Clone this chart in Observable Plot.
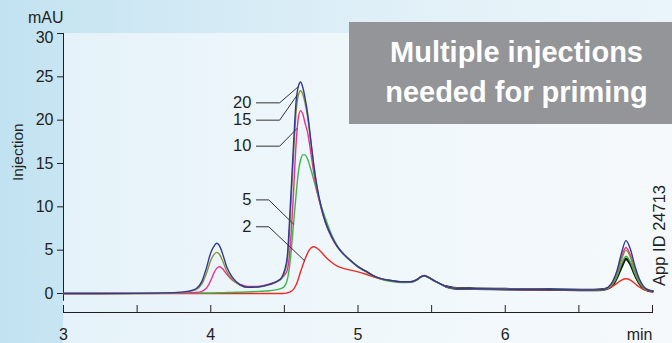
<!DOCTYPE html>
<html>
<head>
<meta charset="utf-8">
<script src="https://cdn.jsdelivr.net/npm/d3@7"></script>
<script src="https://cdn.jsdelivr.net/npm/@observablehq/plot@0.6"></script>
<style>
  html, body { margin: 0; padding: 0; }
  body {
    width: 672px; height: 343px; overflow: hidden; position: relative;
    background: linear-gradient(to right, #c2e2f1 0%, #d3eaf5 30%, #e3f1f8 65%, #eaf5fa 100%);
    font-family: "Liberation Sans", Arial, Helvetica, sans-serif;
  }
  #panel {
    position: absolute; left: 63px; top: 33px; right: 0; bottom: 0;
    background: linear-gradient(to right, #e5f2f9 0%, #eff7fb 45%, #f5f9fc 100%);
  }
  #chart { position: absolute; left: 0; top: 0; }
  #callout {
    position: absolute; left: 349px; top: 22px; width: 323px; height: 102px;
    background: #939598; color: #ffffff; font-weight: bold; font-size: 29px;
    line-height: 40px; box-sizing: border-box; padding: 10px 16px 0 28px;
    text-align: center; white-space: nowrap;
  }
</style>
</head>
<body>
<div id="panel"></div>
<div id="chart"></div>
<div id="callout">Multiple injections<br>needed for priming</div>
<script>
// Retention time (min) shared by the five priming traces
const time = [3.00, 3.50, 3.75, 3.85, 3.90, 3.94, 3.97, 4.00, 4.02, 4.04,
  4.06, 4.08, 4.11, 4.15, 4.20, 4.25, 4.32, 4.40, 4.45, 4.48,
  4.50, 4.52, 4.54, 4.56, 4.58, 4.595, 4.61, 4.625, 4.64, 4.66,
  4.68, 4.70, 4.72, 4.75, 4.78, 4.82, 4.86, 4.90, 4.95, 5.00,
  5.05, 5.10, 5.15, 5.22, 5.30, 5.36, 5.40, 5.43, 5.45, 5.48,
  5.52, 5.56, 5.60, 5.65, 5.80, 6.00, 6.30, 6.60, 6.66, 6.70,
  6.73, 6.76, 6.79, 6.82, 6.85, 6.88, 6.91, 6.94, 6.97, 7.00];

// Absorbance (mAU) after injection 20, 15, 10, 5 and 2
const inj20 = [0, 0.02, 0.1, 0.28, 0.55, 1.4, 2.9, 4.7, 5.4, 5.8,
  5.5, 4.6, 3.0, 1.8, 1.0, 0.72, 0.75, 1.05, 1.4, 1.8,
  2.6, 4.3, 10.0, 16.5, 22.2, 23.9, 24.4, 23.8, 22.6, 20.5,
  17.6, 14.8, 12.5, 10.0, 8.2, 6.6, 5.4, 4.6, 3.8, 3.1,
  2.6, 2.1, 1.75, 1.5, 1.35, 1.35, 1.6, 1.95, 2.05, 1.85,
  1.45, 1.1, 0.8, 0.62, 0.55, 0.5, 0.45, 0.4, 0.45, 0.75,
  1.4, 2.7, 4.7, 6.1, 5.1, 3.2, 1.7, 0.8, 0.4, 0.25];
const inj15 = [0, 0.02, 0.08, 0.22, 0.45, 1.1, 2.3, 3.8, 4.45, 4.75,
  4.5, 3.8, 2.5, 1.55, 0.95, 0.72, 0.75, 1.02, 1.35, 1.7,
  2.4, 3.8, 8.8, 15.3, 21.0, 22.9, 23.4, 23.0, 22.0, 20.1,
  17.4, 14.7, 12.4, 9.9, 8.2, 6.6, 5.4, 4.6, 3.8, 3.1,
  2.6, 2.1, 1.75, 1.5, 1.35, 1.35, 1.6, 1.95, 2.05, 1.85,
  1.45, 1.1, 0.8, 0.62, 0.55, 0.5, 0.45, 0.4, 0.44, 0.68,
  1.2, 2.3, 3.9, 5.0, 4.2, 2.7, 1.45, 0.7, 0.38, 0.25];
const inj10 = [0, 0.01, 0.04, 0.08, 0.12, 0.25, 0.6, 1.5, 2.3, 2.9,
  3.08, 2.85, 2.2, 1.5, 1.05, 0.8, 0.82, 1.1, 1.4, 1.75,
  2.1, 2.7, 5.5, 11.0, 17.4, 20.3, 21.1, 20.7, 19.7, 18.4,
  16.2, 13.9, 12.0, 9.8, 8.1, 6.5, 5.35, 4.55, 3.8, 3.1,
  2.6, 2.1, 1.75, 1.5, 1.35, 1.35, 1.6, 1.95, 2.05, 1.85,
  1.45, 1.1, 0.8, 0.62, 0.55, 0.5, 0.45, 0.4, 0.45, 0.7,
  1.3, 2.5, 4.2, 5.3, 4.4, 2.8, 1.5, 0.75, 0.4, 0.25];
const inj5 = [0, 0, 0.02, 0.03, 0.04, 0.05, 0.05, 0.06, 0.07, 0.08,
  0.09, 0.1, 0.11, 0.13, 0.15, 0.18, 0.24, 0.32, 0.45, 0.6,
  0.8, 1.6, 3.8, 7.6, 11.5, 14.0, 15.4, 16.0, 16.0, 15.4,
  14.3, 13.1, 11.8, 10.1, 8.6, 6.8, 5.5, 4.55, 3.75, 3.05,
  2.55, 2.05, 1.7, 1.4, 1.25, 1.28, 1.55, 1.9, 2.0, 1.8,
  1.42, 1.08, 0.78, 0.6, 0.55, 0.5, 0.45, 0.4, 0.44, 0.65,
  1.1, 2.0, 3.4, 4.3, 3.6, 2.3, 1.25, 0.62, 0.35, 0.25];
const inj2 = [0, 0, 0, 0, 0, 0, 0, 0, 0, 0,
  0, 0, 0, 0, 0, 0, 0, 0, 0, 0,
  0.02, 0.08, 0.2, 0.45, 1.0, 1.7, 2.5, 3.25, 3.95, 4.75,
  5.25, 5.4, 5.25, 4.8, 4.2, 3.6, 3.15, 2.9, 2.7, 2.5,
  2.25, 1.95, 1.7, 1.45, 1.33, 1.35, 1.62, 1.98, 2.08, 1.85,
  1.45, 1.1, 0.8, 0.62, 0.55, 0.5, 0.45, 0.4, 0.45, 0.6,
  0.85, 1.2, 1.55, 1.7, 1.55, 1.15, 0.75, 0.45, 0.3, 0.2];

// Reference run, recorded over the late part of the gradient only
const refTime = [5.60, 5.65, 5.80, 6.00, 6.30, 6.60, 6.66, 6.70, 6.73, 6.76,
  6.79, 6.82, 6.85, 6.88, 6.91, 6.94, 6.97, 7.00];
const refTrace = [0.8, 0.62, 0.55, 0.5, 0.45, 0.4, 0.45, 0.62, 1.0, 1.9,
  3.1, 4.0, 3.4, 2.2, 1.2, 0.6, 0.35, 0.25];

// Axis ticks
const xMajorTicks = [3, 4, 5, 6];
const xTickMarks = [3, 3.5, 4, 4.5, 5, 5.5, 6, 6.5, 7];
const yTicks = [0, 5, 10, 15, 20, 25, 30];

// Trace labels: label, label height, elbow time, and the point on the trace
const labelNames = ["20", "15", "10", "5", "2"];
const labelLevel = [22.0, 20.0, 17.0, 10.8, 7.7];
const labelElbow = [4.468, 4.468, 4.468, 4.394, 4.394];
const labelTargetT = [4.597, 4.587, 4.587, 4.563, 4.638];
const labelTargetV = [23.9, 22.9, 19.05, 8.0, 3.77];
const labelStart = 4.31;

// Drawing styles
const ink = "#231f20";
const font = "'Liberation Sans', Arial, Helvetica, sans-serif";
const traceStyles = [
  {name: "2", values: inj2, color: "#ee2a24"},
  {name: "5", values: inj5, color: "#3db54a"},
  {name: "10", values: inj10, color: "#e8318f"},
  {name: "15", values: inj15, color: "#8f8f3a"},
  {name: "20", values: inj20, color: "#2d3a94"}
];

const W = 672, H = 343;
const mLeft = 63, mRight = 20, mTop = 33, mBottom = 31;
const innerW = W - mLeft - mRight;
const innerH = H - mTop - mBottom;
const tickLen = 6;
// y=0 sits 19px above the time axis
const yFloor = -19 / ((innerH - 19) / 30);
const yTop = yTicks[yTicks.length - 1];

const refRows = refTime.map((t, i) => ({t, v: refTrace[i]}));

const leaderRows = [];
labelNames.forEach((name, i) => {
  leaderRows.push({name, t: labelStart, v: labelLevel[i]});
  leaderRows.push({name, t: labelElbow[i], v: labelLevel[i]});
  leaderRows.push({name, t: labelTargetT[i], v: labelTargetV[i]});
});
const labelRows = labelNames.map((name, i) => ({name, t: labelStart, v: labelLevel[i]}));

const traceMarks = traceStyles.map(s =>
  Plot.line(time.map((t, i) => ({t, v: s.values[i]})), {
    x: "t", y: "v", stroke: s.color, strokeWidth: 1.4, curve: "monotone-x"
  })
);

const chart = Plot.plot({
  width: W, height: H,
  marginLeft: mLeft, marginRight: mRight, marginTop: mTop, marginBottom: mBottom,
  style: {background: "transparent", fontFamily: font, fontSize: "16px", color: ink},
  x: {domain: [3, 7], axis: null},
  y: {domain: [yFloor, yTop], axis: null},
  marks: [
    // time axis: line, upward ticks, labels
    Plot.frame({anchor: "bottom", stroke: ink}),
    Plot.tickX(xTickMarks, {x: d => d, insetTop: innerH - 7, stroke: ink}),
    Plot.text(xMajorTicks, {x: d => d, text: d => String(d), frameAnchor: "bottom", lineAnchor: "top", dy: 16, fontSize: 16, fill: ink}),
    Plot.text([7], {x: d => d, text: () => "min", frameAnchor: "bottom", textAnchor: "end", lineAnchor: "top", dy: 16, fontSize: 16, fill: ink}),
    // absorbance axis: line, outward ticks, labels
    Plot.ruleX([3], {y1: -0.9, y2: yTop, stroke: ink}),
    Plot.tickY(yTicks, {y: d => d, insetRight: innerW - tickLen, dx: -tickLen, stroke: ink}),
    Plot.text(yTicks.filter(d => d < yTop), {y: d => d, text: d => String(d), frameAnchor: "left", textAnchor: "end", dx: -10, fontSize: 16, fill: ink}),
    Plot.text([yTop], {y: d => d, text: d => String(d), frameAnchor: "left", textAnchor: "end", dx: -10, dy: 4, fontSize: 16, fill: ink}),
    Plot.text([yTop], {x: () => 3, y: d => d, text: () => "mAU", textAnchor: "end", lineAnchor: "bottom", dy: -11, fontSize: 16, fill: ink}),
    Plot.text([16.3], {y: d => d, text: () => "Injection", frameAnchor: "left", textAnchor: "middle", dx: -45, rotate: -90, fontSize: 15.5, fill: ink}),
    Plot.text([6.7], {y: d => d, text: () => "App ID 24713", frameAnchor: "right", textAnchor: "middle", dx: 7, rotate: -90, fontSize: 16.5, fill: ink}),
    // chromatograms
    Plot.line(refRows, {x: "t", y: "v", stroke: "#111", strokeWidth: 2.6, curve: "monotone-x"}),
    ...traceMarks,
    // leader lines and injection labels
    Plot.line(leaderRows, {x: "t", y: "v", z: "name", stroke: "#333", strokeWidth: 1}),
    Plot.text(labelRows, {x: "t", y: "v", text: "name", textAnchor: "end", dx: -5, fontSize: 16.5, fill: ink})
  ]
});

document.getElementById("chart").appendChild(chart);
</script>
</body>
</html>
